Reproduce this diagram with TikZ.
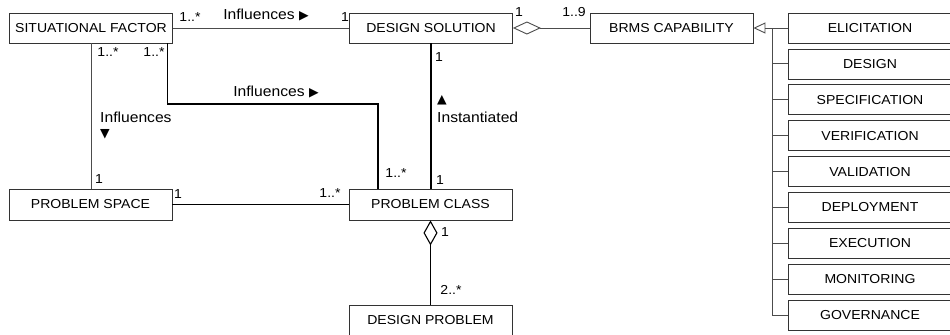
\documentclass[tikz,border=0pt]{standalone}
\usepackage{fontspec}
\setmainfont{Liberation Sans}[FakeStretch=1.08]
\newfontfamily\symfont{DejaVu Sans}
\usetikzlibrary{arrows.meta}
% small filled triangles used as reading-direction markers
\newcommand\umltri[1]{{\symfont\fontsize{12.5bp}{12.5bp}\selectfont #1}}

\begin{document}
\begin{tikzpicture}[x=1bp,y=-1bp,
  cls/.style={draw=black!80, line width=0.8bp, fill=white, minimum width=163bp,
              minimum height=30bp, inner sep=0pt, font=\fontsize{13bp}{15bp}\selectfont},
  thinline/.style={draw=black!70, line width=0.9bp},
  thickline/.style={draw=black, line width=1.1bp},
  lbl/.style={inner sep=0pt, font=\fontsize{14.5bp}{17bp}\selectfont},
  mult/.style={inner sep=0pt, font=\fontsize{13bp}{15bp}\selectfont},
]
\useasboundingbox (0,0) rectangle (950,334);
\clip (0,0) rectangle (950,334);

% classes
\node[cls] (sf) at (91,28) {SITUATIONAL FACTOR};
\node[cls] (ds) at (431,28) {DESIGN SOLUTION};
\node[cls] (brms) at (671.5,28) {BRMS CAPABILITY};
\node[cls, minimum height=31bp] (ps) at (90.5,204.5) {PROBLEM SPACE};
\node[cls, minimum height=31bp] (pc) at (430.5,204.5) {PROBLEM CLASS};
\node[cls] (dp) at (430.5,320) {DESIGN PROBLEM};

% capability specialisations
\foreach \nm/\txt [count=\i from 0] in {el/ELICITATION, de/DESIGN, sp/SPECIFICATION,
    ve/VERIFICATION, va/VALIDATION, dl/DEPLOYMENT, ex/EXECUTION, mo/MONITORING, gv/GOVERNANCE}
  \node[cls, minimum width=164bp] (\nm) at (870,{28+35.9*\i}) {\txt};

% associations
\draw[thinline] (sf.east) -- (ds.west);
\draw[thinline] (sf.south) -- (sf.south |- ps.north);
\coordinate (bend) at (0,104);
\draw[thickline] ([xshift=-5bp]sf.south east) -- ([xshift=-5bp]sf.south east |- bend)
  -| ([xshift=-52.5bp]pc.north);
\draw[thickline] (ds.south) -- (ds.south |- pc.north);
\draw[thickline] (ps.east) -- (pc.west);

% aggregations
\draw[thickline, {Diamond[open, fill=white, length=25bp, width=14bp]}-] (pc.south) -- (pc.south |- dp.north);
\draw[thinline, {Diamond[open, fill=white, length=28bp, width=13bp]}-] (ds.east) -- (brms.west);

% generalisation tree
\draw[thinline, {Triangle[open, fill=white, length=12bp, width=11bp]}-] (brms.east) -- (el.west);
\coordinate (bus) at (772,28);
\draw[thinline] (bus) |- (gv.west);
\foreach \nm in {de,sp,ve,va,dl,ex,mo}
  \draw[thinline] (bus |- \nm.west) -- (\nm.west);

% multiplicities and role labels
\node[mult] (m1) at (190,17) {1..*};
\node[lbl] (l1) at (266,15) {Influences \umltri{▶}};
\node[mult] (m2) at (345,17) {1};
\node[mult] (m3) at (519,12) {1};
\node[mult] (m4) at (574,12) {1..9};
\node[mult] (m5) at (108,52) {1..*};
\node[mult] (m6) at (154,52) {1..*};
\node[lbl, anchor=west] (l2) at (100,117) {Influences};
\node[inner sep=0pt, anchor=west] (l2a) at (100,134) {\umltri{▼}};
\node[lbl] (l3) at (276,92) {Influences \umltri{▶}};
\node[mult] (m7) at (99,179) {1};
\node[mult] (m8) at (178,194) {1};
\node[mult] (m9) at (330,193) {1..*};
\node[mult] (m10) at (396,173) {1..*};
\node[mult] (m11) at (440,180) {1};
\node[mult] (m12) at (445,232) {1};
\node[mult] (m13) at (451,290) {2..*};
\node[mult] (m14) at (439,57) {1};
\node[inner sep=0pt, anchor=west] (l4a) at (437,100) {\umltri{▲}};
\node[lbl, anchor=west] (l4) at (437,117) {Instantiated};
\end{tikzpicture}
\end{document}
